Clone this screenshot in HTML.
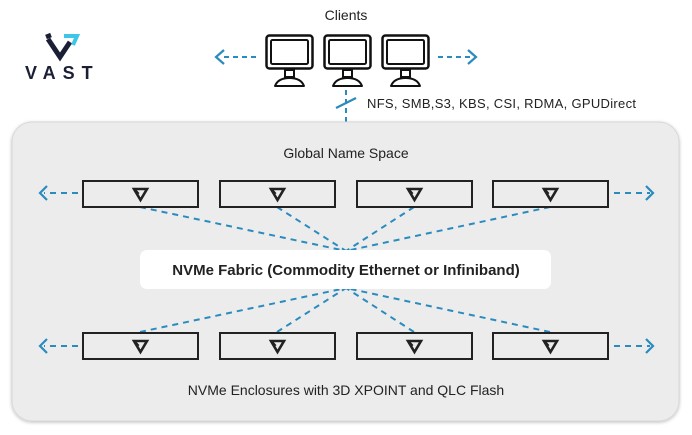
<!DOCTYPE html>
<html><head><meta charset="utf-8"><style>
html,body{margin:0;padding:0;background:#fff;}
svg{display:block;font-family:"Liberation Sans",sans-serif;}
</style></head><body>
<svg width="692" height="435" viewBox="0 0 692 435" xmlns="http://www.w3.org/2000/svg">
<defs>
<filter id="sh" x="-5%" y="-5%" width="110%" height="115%"><feDropShadow dx="0" dy="1" stdDeviation="1.5" flood-color="#000" flood-opacity="0.25"/></filter>
<g id="mon">
<rect x="1.5" y="1.5" width="46" height="33" rx="3" fill="#fff" stroke="#111" stroke-width="2.5"/>
<rect x="6" y="6" width="37" height="24" rx="1.5" fill="#fff" stroke="#111" stroke-width="2"/>
<rect x="20" y="36" width="9" height="7" fill="none" stroke="#111" stroke-width="2"/>
<path d="M10 52 Q13 44 24.5 44 Q36 44 39 52 Z" fill="none" stroke="#111" stroke-width="2" stroke-linejoin="round"/>
</g>
<g id="box">
<rect x="0" y="0" width="115" height="26" fill="#ececec" stroke="#222" stroke-width="2"/>
<path d="M51 8 L64 8 L57.5 19 Z M51 8 L55.5 13" fill="none" stroke="#222" stroke-width="2.6" stroke-linejoin="miter"/>
</g>
</defs>

<!-- logo -->
<path d="M46 37 L51 35" fill="none" stroke="#1a1f36" stroke-width="4.5"/>
<path d="M48 39 L60 57 L70 42" fill="none" stroke="#1a1f36" stroke-width="5"/>
<path d="M64 36 L77 36 L73 45" fill="none" stroke="#3ec6e8" stroke-width="4"/>
<text x="25" y="79" font-size="18" font-weight="bold" fill="#1a1f36" letter-spacing="7">VAST</text>

<text x="346" y="20" font-size="14" fill="#222" text-anchor="middle">Clients</text>
<use href="#mon" x="265" y="34"/>
<use href="#mon" x="323" y="34"/>
<use href="#mon" x="381" y="34"/>

<g stroke="#2a8bbf" stroke-width="2" fill="none" stroke-dasharray="5,4">
<line x1="256" y1="57" x2="220" y2="57"/>
<line x1="438" y1="57" x2="470" y2="57"/>
<line x1="346" y1="90" x2="346" y2="126"/>
</g>
<g stroke="#2a8bbf" stroke-width="2.2" fill="none">
<path d="M224 50 L216 57 L224 64"/>
<path d="M468 50 L476 57 L468 64"/>
<line x1="336" y1="108" x2="356" y2="98"/>
</g>
<text x="367" y="108" font-size="13" fill="#222" letter-spacing="0.3">NFS, SMB,S3, KBS, CSI, RDMA, GPUDirect</text>

<rect x="12" y="122" width="667" height="299" rx="20" fill="#ececec" stroke="#d8d8d8" filter="url(#sh)"/>
<text x="346" y="158" font-size="14" fill="#222" text-anchor="middle">Global Name Space</text>

<g stroke="#2a8bbf" stroke-width="2" fill="none" stroke-dasharray="6,5">
<line x1="140" y1="207" x2="346" y2="251"/>
<line x1="277" y1="207" x2="346" y2="251"/>
<line x1="414" y1="207" x2="346" y2="251"/>
<line x1="550" y1="207" x2="346" y2="251"/>
<line x1="140" y1="332" x2="346" y2="288"/>
<line x1="277" y1="332" x2="346" y2="288"/>
<line x1="414" y1="332" x2="346" y2="288"/>
<line x1="550" y1="332" x2="346" y2="288"/>
<line x1="78" y1="193" x2="44" y2="193"/>
<line x1="614" y1="193" x2="650" y2="193"/>
<line x1="78" y1="346" x2="44" y2="346"/>
<line x1="614" y1="346" x2="650" y2="346"/>
</g>
<g stroke="#2a8bbf" stroke-width="2.2" fill="none">
<path d="M47 186 L40 193 L47 200"/>
<path d="M646 186 L653 193 L646 200"/>
<path d="M47 339 L40 346 L47 353"/>
<path d="M646 339 L653 346 L646 353"/>
</g>

<use href="#box" x="83" y="181"/>
<use href="#box" x="220" y="181"/>
<use href="#box" x="357" y="181"/>
<use href="#box" x="493" y="181"/>
<use href="#box" x="83" y="333"/>
<use href="#box" x="220" y="333"/>
<use href="#box" x="357" y="333"/>
<use href="#box" x="493" y="333"/>

<rect x="140" y="250" width="411" height="39" rx="7" fill="#fff"/>
<text x="346" y="275" font-size="15" font-weight="bold" fill="#222" text-anchor="middle">NVMe Fabric (Commodity Ethernet or Infiniband)</text>

<text x="346" y="395" font-size="14" fill="#222" text-anchor="middle">NVMe Enclosures with 3D XPOINT and QLC Flash</text>
</svg>
</body></html>
